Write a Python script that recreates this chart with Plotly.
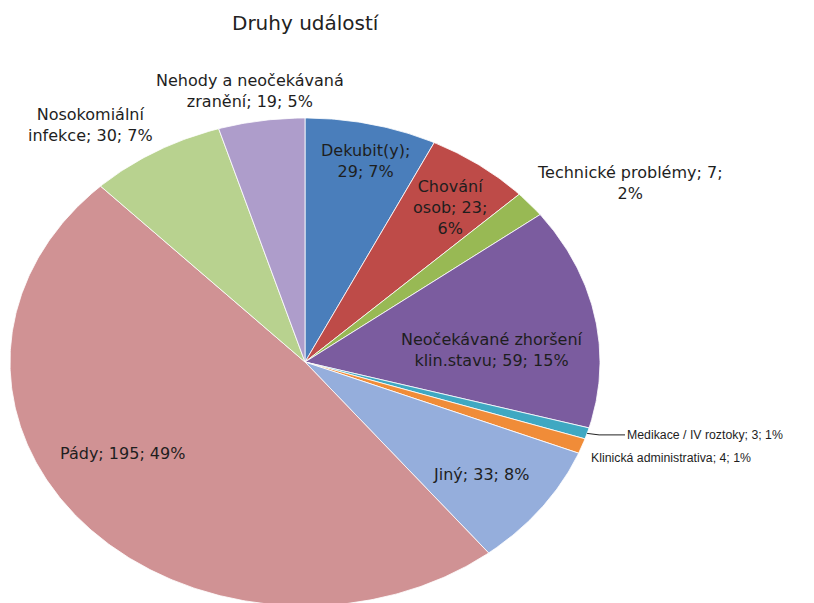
import numpy as np
import plotly.graph_objects as go

# Event types, listed clockwise from 12 o'clock
categories = [
    "Dekubit(y)", "Chování osob", "Technické problémy",
    "Neočekávané zhoršení klin.stavu", "Medikace / IV roztoky",
    "Klinická administrativa", "Jiný", "Pády",
    "Nosokomiální infekce", "Nehody a neočekávaná zranění",
]
counts = [29, 23, 7, 59, 3, 4, 33, 195, 30, 19]

# How each label is wrapped onto lines
label_templates = [
    "Dekubit(y);<br>{v}; {p}%",
    "Chování<br>osob; {v};<br>{p}%",
    "Technické problémy; {v};<br>{p}%",
    "Neočekávané zhoršení<br>klin.stavu; {v}; {p}%",
    "Medikace / IV roztoky; {v}; {p}%",
    "Klinická administrativa; {v}; {p}%",
    "Jiný; {v}; {p}%",
    "Pády; {v}; {p}%",
    "Nosokomiální<br>infekce; {v}; {p}%",
    "Nehody a neočekávaná<br>zranění; {v}; {p}%",
]

colors = ["#4A7EBB", "#BE4B48", "#98B954", "#7B5C9F", "#3FA8C2",
          "#F08C38", "#95AEDC", "#D09294", "#B8D28F", "#AE9DCB"]

# Label placement (x, y, xanchor, font size)
label_pos = [
    (365, 161, "center", 16), (450, 207, "center", 16),
    (630, 183, "center", 16), (492, 350, "center", 16),
    (625, 435, "left", 12.3), (589, 458, "left", 12.3),
    (481, 474, "center", 16), (122, 453, "center", 16),
    (90, 125, "center", 16), (250, 91, "center", 16),
]

W, H = 814, 603
CX, CY, RX, RY = 305, 362, 295, 244

total = sum(counts)
bounds = np.concatenate([[0], np.cumsum(counts)]) / total * 2 * np.pi

fig = go.Figure()
for i, (name, v) in enumerate(zip(categories, counts)):
    a0, a1 = bounds[i], bounds[i + 1]
    t = np.linspace(a0, a1, max(int((a1 - a0) / (2 * np.pi) * 720), 4))
    xs = np.concatenate([[CX], CX + RX * np.sin(t), [CX]])
    ys = np.concatenate([[CY], CY - RY * np.cos(t), [CY]])
    fig.add_trace(go.Scatter(
        x=xs, y=ys, mode="lines", fill="toself", fillcolor=colors[i],
        line=dict(color="rgba(255,255,255,0.8)", width=1),
        name=name, hoverinfo="name", showlegend=False,
    ))

# Leader line for the small "Medikace" slice
k = categories.index("Medikace / IV roztoky")
mid = (bounds[k] + bounds[k + 1]) / 2
ex, ey = CX + RX * np.sin(mid), CY - RY * np.cos(mid)
lx, ly, _, _ = label_pos[k]
fig.add_trace(go.Scatter(
    x=[ex, ex + 12, lx], y=[ey, ey + 1.5, ey + 1.5], mode="lines",
    line=dict(color="#222222", width=1), hoverinfo="skip", showlegend=False,
))

for i, v in enumerate(counts):
    pct = int(np.floor(v / total * 100 + 0.5))
    x, y, anchor, size = label_pos[i]
    fam = "DejaVu Sans" if size >= 14 else "Liberation Sans"
    fig.add_annotation(
        x=x, y=y, xref="x", yref="y", text=label_templates[i].format(v=v, p=pct),
        showarrow=False, xanchor=anchor, yanchor="middle", align="center",
        font=dict(family=fam, size=size, color="#1E1E1E"),
    )

fig.add_annotation(
    x=306, y=23, xref="x", yref="y", text="Druhy událostí", showarrow=False,
    xanchor="center", yanchor="middle",
    font=dict(family="DejaVu Sans", size=20, color="#222222"),
)

fig.update_layout(
    width=W, height=H, margin=dict(l=0, r=0, t=0, b=0),
    paper_bgcolor="white", plot_bgcolor="white",
    xaxis=dict(range=[0, W], visible=False, fixedrange=True),
    yaxis=dict(range=[H, 0], visible=False, fixedrange=True),
)

fig.write_html("out.html")
